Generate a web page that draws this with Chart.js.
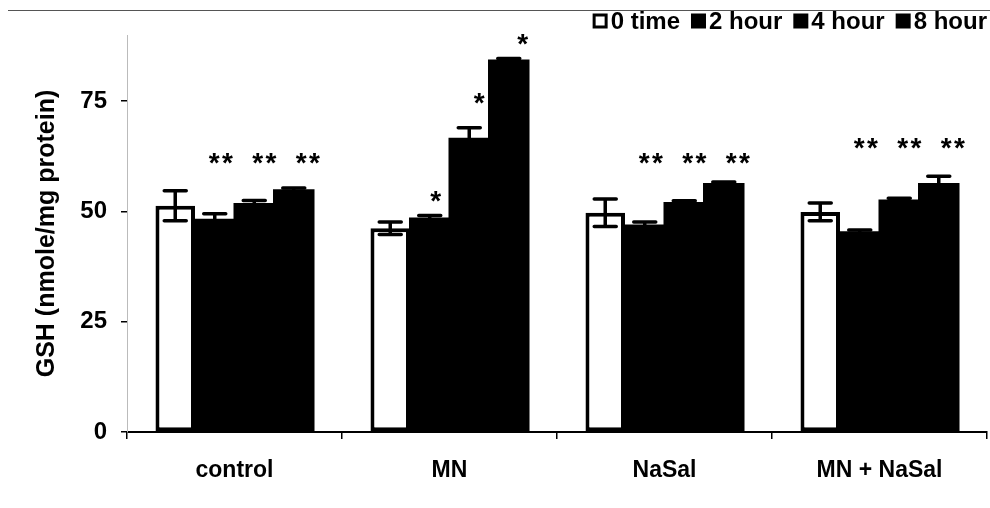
<!DOCTYPE html>
<html><head><meta charset="utf-8">
<script src="https://cdn.jsdelivr.net/npm/chart.js@4.4.1/dist/chart.umd.min.js"></script>
<style>html,body{margin:0;padding:0;background:#fff;} #wrap{width:990px;height:508px;position:relative;}</style>
</head><body><div id="wrap"><canvas id="c"></canvas></div>
<script>
// ---- data ----
const categories = ['control', 'MN', 'NaSal', 'MN + NaSal'];
const seriesLabels = ['0 time', '2 hour', '4 hour', '8 hour'];
const time0 = [51.3, 46.2, 49.7, 49.9];
const hour2 = [48.1, 48.4, 46.8, 45.3];
const hour4 = [51.7, 66.5, 51.9, 52.5];
const hour8 = [54.8, 84.2, 56.2, 56.2];
const err0 = [3.4, 1.4, 3.1, 2.0];
const err2 = [1.4, 0.7, 0.8, 0.5];
const err4 = [0.8, 2.5, 0.5, 0.5];
const err8 = [0.5, 0.5, 0.5, 1.8];
const stars0 = [null, null, null, null];
const stars2 = ['**', '*', '**', '**'];
const stars4 = ['**', '*', '**', '**'];
const stars8 = ['**', '*', '**', '**'];
const starLevel0 = [null, null, null, null];
const starLevel2 = [62.3, 53.7, 62.3, 65.7];
const starLevel4 = [62.3, 75.9, 62.3, 65.7];
const starLevel8 = [62.3, 89.3, 62.3, 65.7];
const yTicks = [0, 25, 50, 75];
const yTitle = 'GSH (nmole/mg protein)';

const errors = [err0, err2, err4, err8];
const stars = [stars0, stars2, stars4, stars8];
const starLevels = [starLevel0, starLevel2, starLevel4, starLevel8];
const FONT = '"Liberation Sans", Arial, sans-serif';

Chart.defaults.font.family = FONT;
Chart.defaults.color = '#000';

const scanLine = {
  id: 'scanLine',
  beforeDraw(chart) {
    const ctx = chart.ctx;
    ctx.save();
    ctx.strokeStyle = '#555';
    ctx.lineWidth = 1;
    ctx.beginPath();
    ctx.moveTo(8, 10.5); ctx.lineTo(990, 10.5);
    ctx.stroke();
    ctx.restore();
  }
};

const errStars = {
  id: 'errStars',
  afterDatasetsDraw(chart) {
    const ctx = chart.ctx;
    const ys = chart.scales.y;
    const starShift = [0, 6, 10, 14];
    ctx.save();
    chart.data.datasets.forEach((ds, di) => {
      const meta = chart.getDatasetMeta(di);
      meta.data.forEach((bar, i) => {
        const v = ds.data[i], e = errors[di][i];
        const x = bar.x;
        const yt = ys.getPixelForValue(v + e), yb = ys.getPixelForValue(v - e);
        ctx.strokeStyle = '#000';
        ctx.lineWidth = 3.5;
        ctx.lineCap = 'round';
        ctx.beginPath();
        ctx.moveTo(x, yt); ctx.lineTo(x, yb);
        ctx.moveTo(x - 11, yt); ctx.lineTo(x + 11, yt);
        ctx.moveTo(x - 11, yb); ctx.lineTo(x + 11, yb);
        ctx.stroke();
        const s = stars[di][i];
        if (s) {
          ctx.fillStyle = '#000';
          ctx.font = 'bold 28px ' + FONT;
          ctx.textAlign = 'center';
          ctx.textBaseline = 'alphabetic';
          const yc = ys.getPixelForValue(starLevels[di][i]);
          ctx.fillText(s.split('').join('\u200A'), x + starShift[di], yc + 15);
        }
      });
    });
    ctx.restore();
  }
};

const customLegend = {
  id: 'customLegend',
  afterDraw(chart) {
    const ctx = chart.ctx;
    ctx.save();
    ctx.font = 'bold 24px ' + FONT;
    const box = 15, gapText = 3, gapItem = 11;
    const dss = chart.data.datasets;
    const widths = dss.map(d => ctx.measureText(d.label).width);
    const total = widths.reduce((a, w) => a + box + gapText + w, 0) + gapItem * (widths.length - 1);
    let x = 987 - total;
    const yc = 21;
    dss.forEach((d, i) => {
      ctx.fillStyle = d.backgroundColor;
      ctx.fillRect(x, yc - box / 2, box, box);
      if (d.backgroundColor === '#fff') {
        ctx.strokeStyle = '#000';
        ctx.lineWidth = 3;
        ctx.strokeRect(x + 1.5, yc - box / 2 + 1.5, box - 3, box - 3);
      }
      ctx.fillStyle = '#000';
      ctx.textBaseline = 'middle';
      ctx.textAlign = 'left';
      ctx.fillText(d.label, x + box + gapText, yc + 1);
      x += box + gapText + widths[i] + gapItem;
    });
    ctx.restore();
  }
};

new Chart(document.getElementById('c'), {
  type: 'bar',
  data: {
    labels: categories,
    datasets: [
      { label: seriesLabels[0], data: time0, backgroundColor: '#fff', borderColor: '#000', borderWidth: 4, borderSkipped: false, inflateAmount: 0 },
      { label: seriesLabels[1], data: hour2, backgroundColor: '#000', borderWidth: 0, inflateAmount: 1 },
      { label: seriesLabels[2], data: hour4, backgroundColor: '#000', borderWidth: 0, inflateAmount: 1 },
      { label: seriesLabels[3], data: hour8, backgroundColor: '#000', borderWidth: 0, inflateAmount: 1 }
    ]
  },
  options: {
    responsive: true,
    maintainAspectRatio: false,
    animation: false,
    layout: { padding: { top: 35, right: 3, bottom: 0, left: 0 } },
    datasets: { bar: { categoryPercentage: 0.735, barPercentage: 1 } },
    plugins: { legend: { display: false }, tooltip: { enabled: false } },
    scales: {
      x: {
        grid: { display: true, drawOnChartArea: false, drawTicks: true, tickLength: 7, color: '#000', lineWidth: 1.5, offset: true },
        border: { display: true, color: '#000', width: 2 },
        ticks: { font: { size: 23, weight: 'bold' }, padding: 18, color: '#000' },
        afterFit(s) { s.height = 76; }
      },
      y: {
        min: 0, max: 90,
        afterBuildTicks(s) { s.ticks = yTicks.map(v => ({ value: v })); },
        grid: { display: true, drawOnChartArea: false, drawTicks: true, tickLength: 6, color: '#000', lineWidth: 1.5 },
        border: { display: true, color: '#bbb', width: 1, dash: [1, 6] },
        ticks: { font: { size: 24, weight: 'bold' }, padding: 14, color: '#000' },
        title: { display: true, text: yTitle, font: { size: 25, weight: 'bold' }, padding: { top: 32, bottom: 0 }, color: '#000' },
        afterFit(s) { s.width = 127; }
      }
    }
  },
  plugins: [scanLine, errStars, customLegend]
});
</script>
</body></html>
